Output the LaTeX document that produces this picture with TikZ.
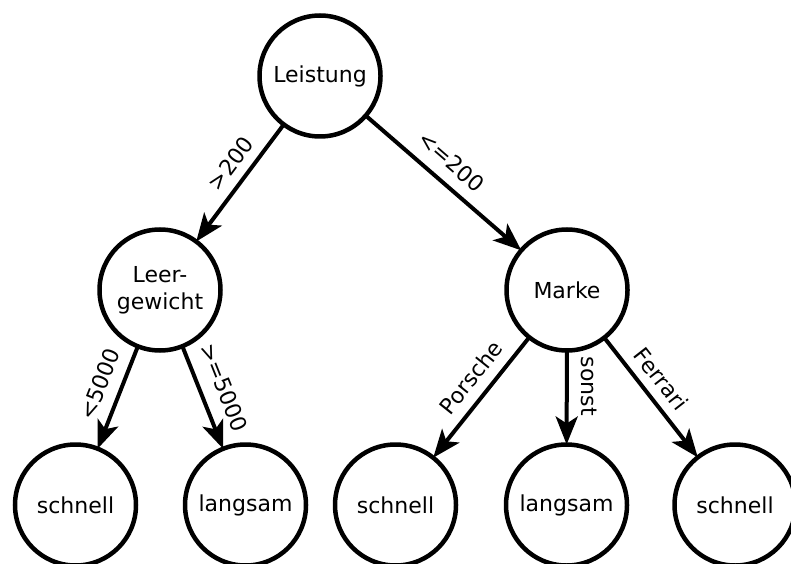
\documentclass[tikz,border=0pt]{standalone}
\usepackage{fontspec}
\setmainfont{DejaVu Sans}
\usetikzlibrary{arrows.meta}

\tikzset{
  treenode/.style={circle, draw=black, line width=4.5pt, minimum size=121pt,
    inner sep=0pt, outer sep=0pt, align=center,
    font=\fontsize{22}{27}\selectfont},
  branch/.style={line width=4pt,
    -{Stealth[length=28pt,width=22pt,inset=7pt]}},
  cond/.style={sloped, above, pos=0.45, inner sep=10pt,
    font=\fontsize{22}{27}\selectfont}
}

\begin{document}
\begin{tikzpicture}[x=1pt,y=1pt]
  \useasboundingbox (0,0) rectangle (791,563);

  % decision nodes
  \node[treenode] (leistung) at (320,487) {Leistung};
  \node[treenode] (gewicht)  at (160,273) {Leer-\\gewicht};
  \node[treenode] (marke)    at (567,273) {Marke};

  % leaves
  \node[treenode] (l1) at (75.5,58)  {schnell};
  \node[treenode] (l2) at (245.5,58) {langsam};
  \node[treenode] (l3) at (395.5,58) {schnell};
  \node[treenode] (l4) at (566.5,58) {langsam};
  \node[treenode] (l5) at (735,58)   {schnell};

  % branches
  \draw[branch] (leistung) -- node[cond, pos=0.43, inner sep=9pt] {>200} (gewicht);
  \draw[branch] (leistung) -- node[cond, pos=0.46, inner sep=11pt] {<=200} (marke);
  \draw[branch] (gewicht) -- node[cond, pos=0.447, inner sep=11.5pt] {<5000} (l1);
  \draw[branch] (gewicht) -- node[cond, pos=0.49, inner sep=13pt] {>=5000} (l2);
  \draw[branch] (marke) -- node[cond, pos=0.44] {Porsche} (l3);
  \draw[branch] (marke) -- node[cond, pos=0.38, inner sep=12pt, allow upside down] {sonst} (l4);
  \draw[branch] (marke) -- node[cond, pos=0.446, inner sep=9pt] {Ferrari} (l5);
\end{tikzpicture}
\end{document}
